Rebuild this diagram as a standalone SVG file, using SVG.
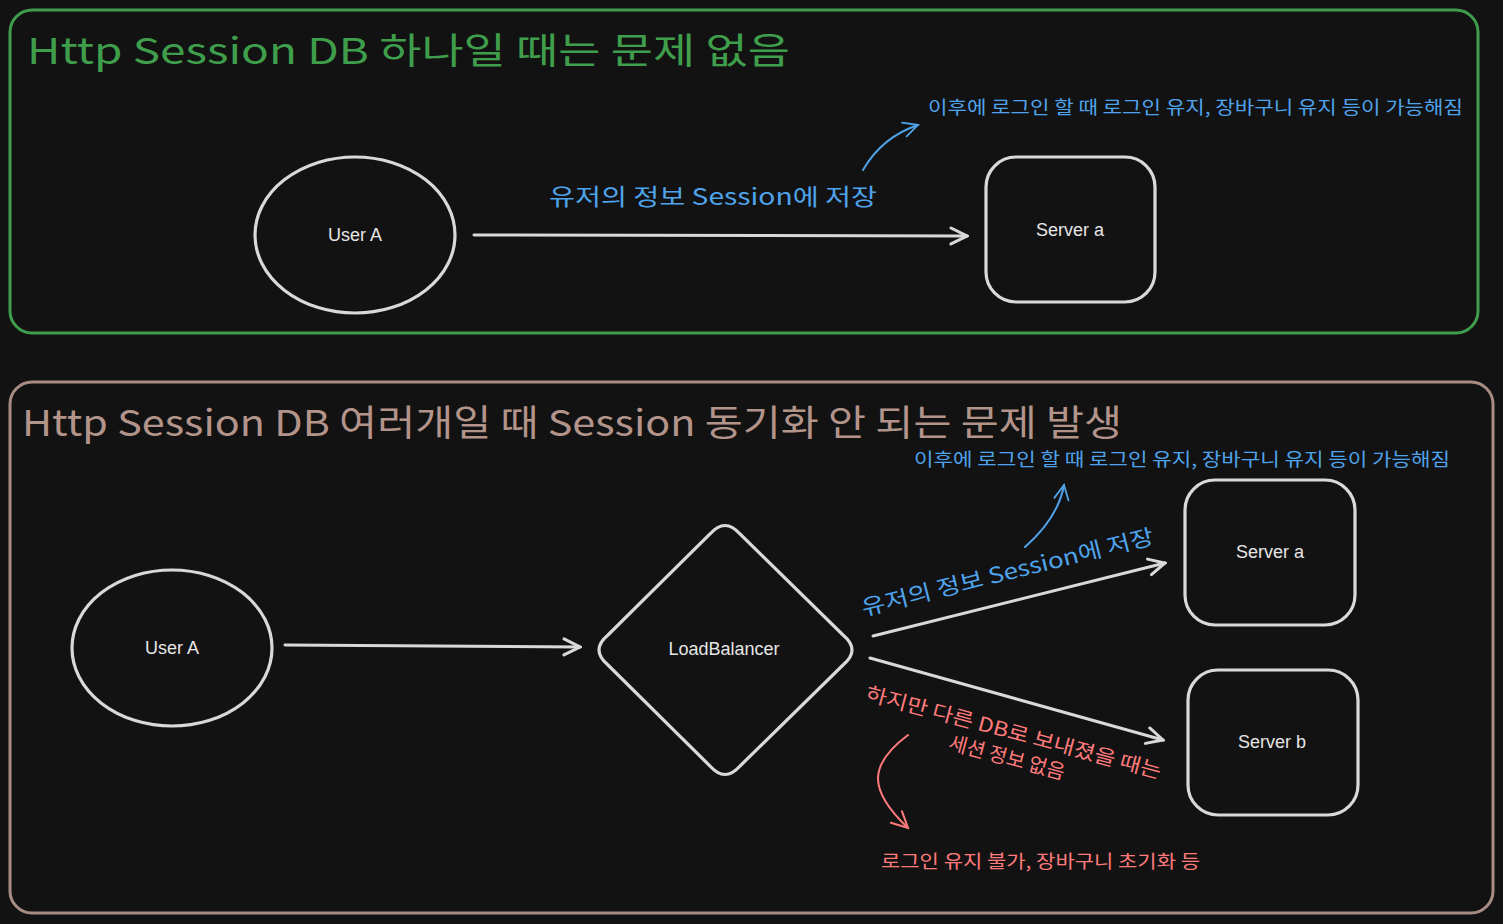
<svg xmlns="http://www.w3.org/2000/svg" width="1503" height="924" viewBox="0 0 1503 924">
<style>
.bg{fill:#121212}
.node{fill:none;stroke:#d9d9d9;stroke-width:3.2}
.lbl{font-family:"Liberation Sans","Noto Sans CJK KR",sans-serif;font-size:18px;fill:#e6e6e6;text-anchor:middle;dominant-baseline:central}
.kr{font-family:"Noto Sans CJK KR","Liberation Sans",sans-serif}
.blue{fill:#4fa3ea}
.red{fill:#ff7b7b}
.conn{fill:none;stroke:#d9d9d9;stroke-width:3;stroke-linecap:round}
.bconn{fill:none;stroke:#4fa3ea;stroke-width:2;stroke-linecap:round}
.rconn{fill:none;stroke:#ff7b7b;stroke-width:2;stroke-linecap:round}
</style>
<defs>
<marker id="aw" viewBox="0 0 20 20" refX="18" refY="10" markerWidth="20" markerHeight="20" markerUnits="userSpaceOnUse" orient="auto">
<path d="M2,2 L18,10 L2,18" fill="none" stroke="#d9d9d9" stroke-width="3" stroke-linecap="round"/>
</marker>
<marker id="ab" viewBox="0 0 20 20" refX="18" refY="10" markerWidth="18" markerHeight="18" markerUnits="userSpaceOnUse" orient="auto">
<path d="M2,2 L18,10 L2,18" fill="none" stroke="#4fa3ea" stroke-width="2" stroke-linecap="round"/>
</marker>
<marker id="ar" viewBox="0 0 20 20" refX="18" refY="10" markerWidth="20" markerHeight="20" markerUnits="userSpaceOnUse" orient="auto">
<path d="M2,2 L18,10 L2,18" fill="none" stroke="#ff7b7b" stroke-width="2" stroke-linecap="round"/>
</marker>
</defs>
<rect class="bg" x="0" y="0" width="1503" height="924"/>

<g id="frame1">
<rect x="10" y="10" width="1468" height="323" rx="22" fill="none" stroke="#3f9e4b" stroke-width="3"/>
<text x="27" y="64" class="kr" font-size="36" fill="#3f9e4b" textLength="763" lengthAdjust="spacingAndGlyphs">Http Session DB 하나일 때는 문제 없음</text>
</g>
<g id="frame2">
<rect x="10" y="382" width="1483" height="531" rx="22" fill="none" stroke="#a88c84" stroke-width="3"/>
<text x="22" y="436" class="kr" font-size="36" fill="#b3948b" textLength="1100" lengthAdjust="spacingAndGlyphs">Http Session DB 여러개일 때 Session 동기화 안 되는 문제 발생</text>
</g>

<g id="top-userA">
<ellipse cx="355" cy="235" rx="100" ry="78" class="node"/>
<text x="355" y="235" class="lbl">User A</text>
</g>
<g id="top-serverA">
<rect x="986" y="157" width="169" height="145" rx="30" class="node"/>
<text x="1070" y="230" class="lbl">Server a</text>
</g>
<g id="top-notes">
<text x="713" y="195" class="kr blue" font-size="23" text-anchor="middle" dominant-baseline="central" textLength="328" lengthAdjust="spacingAndGlyphs">유저의 정보 Session에 저장</text>
<text x="928" y="114" class="kr blue" font-size="18" textLength="535" lengthAdjust="spacingAndGlyphs">이후에 로그인 할 때 로그인 유지, 장바구니 유지 등이 가능해짐</text>
</g>

<g id="bot-userA">
<ellipse cx="172" cy="648" rx="100" ry="78" class="node"/>
<text x="172" y="648" class="lbl">User A</text>
</g>
<g id="bot-lb">
<path d="M710,534 Q725,517 740,534 L843,635 Q861,650 843,665 L740,766 Q725,783 710,766 L608,665 Q590,650 608,635 Z" class="node"/>
<text x="724" y="649" class="lbl">LoadBalancer</text>
</g>
<g id="bot-serverA">
<rect x="1185" y="480" width="170" height="145" rx="30" class="node"/>
<text x="1270" y="552" class="lbl">Server a</text>
</g>
<g id="bot-serverB">
<rect x="1188" y="670" width="170" height="145" rx="30" class="node"/>
<text x="1272" y="742" class="lbl">Server b</text>
</g>
<g id="bot-notes">
<text class="kr blue" font-size="22" text-anchor="middle" dominant-baseline="central" transform="translate(1007,570) rotate(-14)" textLength="300" lengthAdjust="spacingAndGlyphs">유저의 정보 Session에 저장</text>
<text x="914" y="466" class="kr blue" font-size="18" textLength="536" lengthAdjust="spacingAndGlyphs">이후에 로그인 할 때 로그인 유지, 장바구니 유지 등이 가능해짐</text>
<g transform="translate(1014,731) rotate(15)">
<text x="0" y="0" class="kr red" font-size="20" text-anchor="middle" dominant-baseline="central" textLength="305" lengthAdjust="spacingAndGlyphs">하지만 다른 DB로 보내졌을 때는</text>
<text x="0" y="26" class="kr red" font-size="20" text-anchor="middle" dominant-baseline="central">세션 정보 없음</text>
</g>
<text x="881" y="868" class="kr red" font-size="18" textLength="319" lengthAdjust="spacingAndGlyphs">로그인 유지 불가, 장바구니 초기화 등</text>
</g>

<g id="connectors">
<path d="M474,235 L967,236" class="conn" marker-end="url(#aw)"/>
<path d="M863,170 Q882,137 918,125" class="bconn" marker-end="url(#ab)"/>
<path d="M285,645 L580,647" class="conn" marker-end="url(#aw)"/>
<path d="M873,636 L1165,563" class="conn" marker-end="url(#aw)"/>
<path d="M870,658 L1163,740" class="conn" marker-end="url(#aw)"/>
<path d="M1025,547 Q1058,518 1064,485" class="bconn" marker-end="url(#ab)"/>
<path d="M908,735 C868,765 868,790 908,828" class="rconn" marker-end="url(#ar)"/>
</g>
</svg>
